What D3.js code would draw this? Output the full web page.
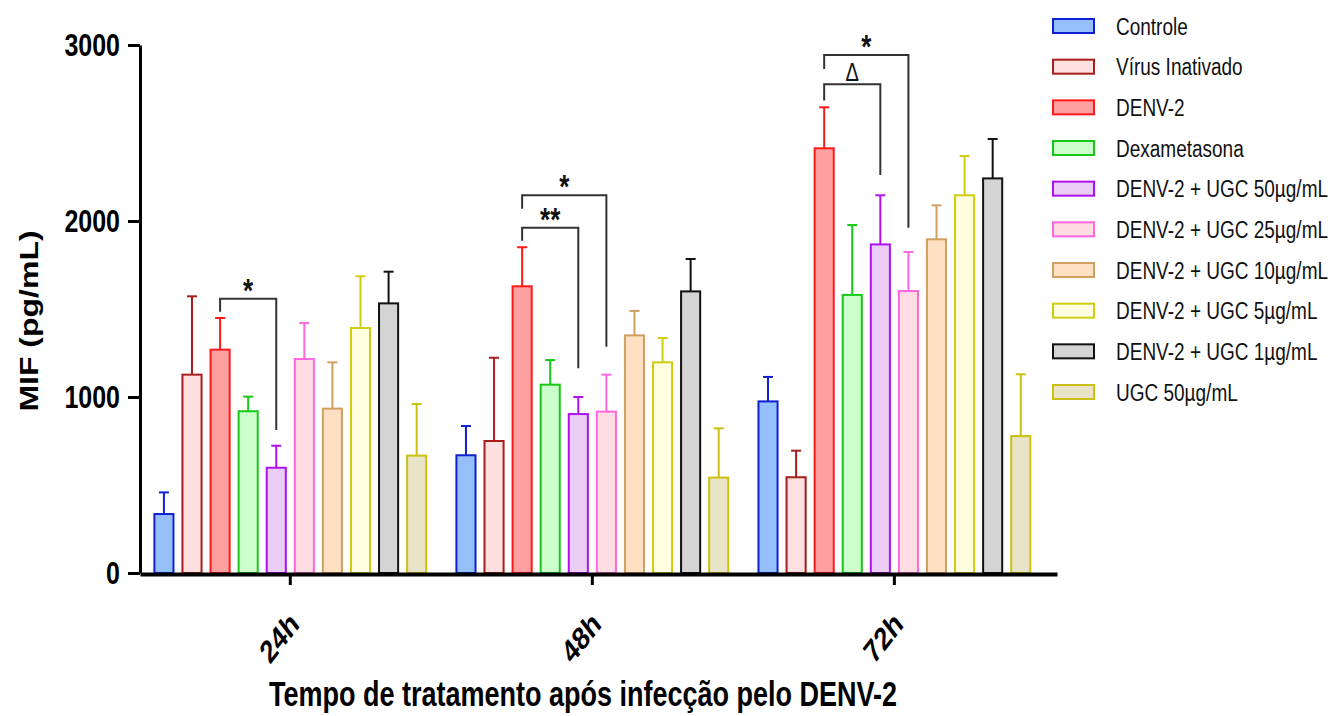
<!DOCTYPE html>
<html>
<head>
<meta charset="utf-8">
<script src="https://cdn.jsdelivr.net/npm/d3@7"></script>
<style>
  body { margin: 0; background: #fff; }
  text { font-family: Arial, "Liberation Sans", sans-serif; }
</style>
</head>
<body>
<script>
// Data
const groups = ["24h", "48h", "72h"];
const series = [
  "Controle",
  "Vírus Inativado",
  "DENV-2",
  "Dexametasona",
  "DENV-2 + UGC 50µg/mL",
  "DENV-2 + UGC 25µg/mL",
  "DENV-2 + UGC 10µg/mL",
  "DENV-2 + UGC 5µg/mL",
  "DENV-2 + UGC 1µg/mL",
  "UGC 50µg/mL",
];
const mean24h = [335, 1127, 1269, 919, 598, 1216, 934, 1392, 1532, 667];
const err24h = [123, 445, 180, 83, 125, 204, 263, 294, 180, 293];
const mean48h = [669, 750, 1629, 1070, 903, 917, 1350, 1197, 1600, 542];
const err48h = [166, 473, 222, 140, 97, 210, 139, 138, 184, 280];
const mean72h = [975, 544, 2413, 1580, 1867, 1602, 1896, 2146, 2242, 778];
const err72h = [139, 151, 233, 397, 279, 222, 193, 223, 224, 351];
const yTicks = [0, 1000, 2000, 3000];

// significance brackets (values in pg/mL)
const brackets = [
  { group: "24h", from: 2, to: 4, label: "*", top: 1558, leftEnd: 1485, rightEnd: 813 },
  { group: "48h", from: 2, to: 4, label: "**", top: 1962, leftEnd: 1888, rightEnd: 1163 },
  { group: "48h", from: 2, to: 5, label: "*", top: 2146, leftEnd: 2070, rightEnd: 1286 },
  { group: "72h", from: 2, to: 4, label: "Δ", top: 2777, leftEnd: 2684, rightEnd: 2261 },
  { group: "72h", from: 2, to: 5, label: "*", top: 2943, leftEnd: 2864, rightEnd: 1962 },
];

// Styles
const fills = ["#94bff8", "#ffe0e0", "#ffa0a0", "#ccffcc", "#ebcdf6", "#ffdde2", "#ffe0c2", "#ffffe0", "#d4d4d4", "#e9e4c8"];
const strokes = ["#1020d0", "#a81c1c", "#ff1a1a", "#18c818", "#b010f0", "#ff66e0", "#d0a062", "#d0cc10", "#111111", "#ccc010"];
const stretch = "scale(1,1.28)";

const w = 1333;
const h = 716;

const svg = d3.select("body").append("svg").attr("width", w).attr("height", h);

const groupData = [
  { g: "24h", mean: mean24h, err: err24h },
  { g: "48h", mean: mean48h, err: err48h },
  { g: "72h", mean: mean72h, err: err72h },
];

// Scales
const y = d3.scaleLinear().domain([0, 3000]).range([573, 45]);
const x0 = d3
  .scaleBand()
  .domain(groups)
  .range([140, 1057])
  .paddingInner(0.1)
  .paddingOuter(0.068)
  .align(0.35);
const x1 = d3.scaleBand().domain(series).range([0, x0.bandwidth()]).paddingInner(0.32);

// Bars + error bars
groupData.forEach((gd) => {
  const g = svg.append("g").attr("transform", "translate(" + x0(gd.g) + ",0)");
  series.forEach((s, i) => {
    const cx = x1(s) + x1.bandwidth() / 2;
    const top = y(gd.mean[i] + gd.err[i]);
    g.append("line")
      .attr("x1", cx).attr("x2", cx)
      .attr("y1", y(gd.mean[i])).attr("y2", top)
      .attr("stroke", strokes[i]).attr("stroke-width", 2);
    g.append("line")
      .attr("x1", cx - 5).attr("x2", cx + 5)
      .attr("y1", top).attr("y2", top)
      .attr("stroke", strokes[i]).attr("stroke-width", 2);
    g.append("rect")
      .attr("x", x1(s))
      .attr("y", y(gd.mean[i]))
      .attr("width", x1.bandwidth())
      .attr("height", y(0) - y(gd.mean[i]))
      .attr("fill", fills[i])
      .attr("stroke", strokes[i])
      .attr("stroke-width", 2);
  });
});

// Brackets
brackets.forEach((b) => {
  const xl = x0(b.group) + x1(series[b.from]) + x1.bandwidth() / 2;
  const xr = x0(b.group) + x1(series[b.to]) + x1.bandwidth() / 2;
  svg.append("path")
    .attr("d", "M" + xl + "," + y(b.leftEnd) + "V" + y(b.top) + "H" + xr + "V" + y(b.rightEnd))
    .attr("fill", "none")
    .attr("stroke", "#333")
    .attr("stroke-width", 2);
  const isDelta = b.label === "Δ";
  svg.append("text")
    .attr("transform", "translate(" + (xl + xr) / 2 + "," + (y(b.top) + (isDelta ? -3 : 3)) + ") " + stretch)
    .attr("text-anchor", "middle")
    .style("font-size", isDelta ? "20px" : "26px")
    .style("font-weight", isDelta ? "normal" : "bold")
    .attr("fill", "#111")
    .text(b.label);
});

// Y axis
const yAxis = svg
  .append("g")
  .attr("transform", "translate(140,0)")
  .call(
    d3.axisLeft(y)
      .tickValues(yTicks)
      .tickFormat(d3.format("d"))
      .tickSize(12)
      .tickSizeOuter(0)
      .tickPadding(8)
  );
yAxis.select(".domain").attr("stroke-width", 3);
yAxis.selectAll(".tick line").attr("stroke-width", 3);
yAxis.selectAll(".tick text")
  .attr("transform", stretch)
  .style("font-size", "25px")
  .style("font-weight", "bold")
  .attr("fill", "#000");

// X axis
const xAxis = svg
  .append("g")
  .attr("transform", "translate(0,574)")
  .call(d3.axisBottom(x0).tickSize(11).tickSizeOuter(0));
xAxis.select(".domain").attr("stroke-width", 4);
xAxis.selectAll(".tick line").attr("stroke-width", 3);
xAxis.selectAll(".tick text")
  .attr("x", null)
  .attr("y", null)
  .attr("dy", "0.35em")
  .attr("text-anchor", "end")
  .attr("transform", "translate(4,44) " + stretch + " rotate(-45)")
  .style("font-size", "25px")
  .style("font-weight", "bold")
  .attr("fill", "#000");

// Axis titles
svg.append("text")
  .attr("transform", "translate(38,321) " + stretch + " rotate(-90)")
  .attr("text-anchor", "middle")
  .style("font-size", "25px")
  .style("font-weight", "bold")
  .text("MIF (pg/mL)");

svg.append("text")
  .attr("transform", "translate(583,706) " + stretch)
  .attr("text-anchor", "middle")
  .style("font-size", "27px")
  .style("font-weight", "bold")
  .text("Tempo de tratamento após infecção pelo DENV-2");

// Legend
const yLeg = d3.scalePoint().domain(series).range([26, 392]);
const legend = svg.append("g");
series.forEach((s, i) => {
  legend.append("rect")
    .attr("x", 1053)
    .attr("y", yLeg(s) - 7)
    .attr("width", 41)
    .attr("height", 14)
    .attr("fill", fills[i])
    .attr("stroke", strokes[i])
    .attr("stroke-width", 2);
  legend.append("text")
    .attr("transform", "translate(1116," + yLeg(s) + ") " + stretch)
    .attr("dy", "0.35em")
    .style("font-size", "19px")
    .attr("fill", "#111")
    .text(s);
});
</script>
</body>
</html>
